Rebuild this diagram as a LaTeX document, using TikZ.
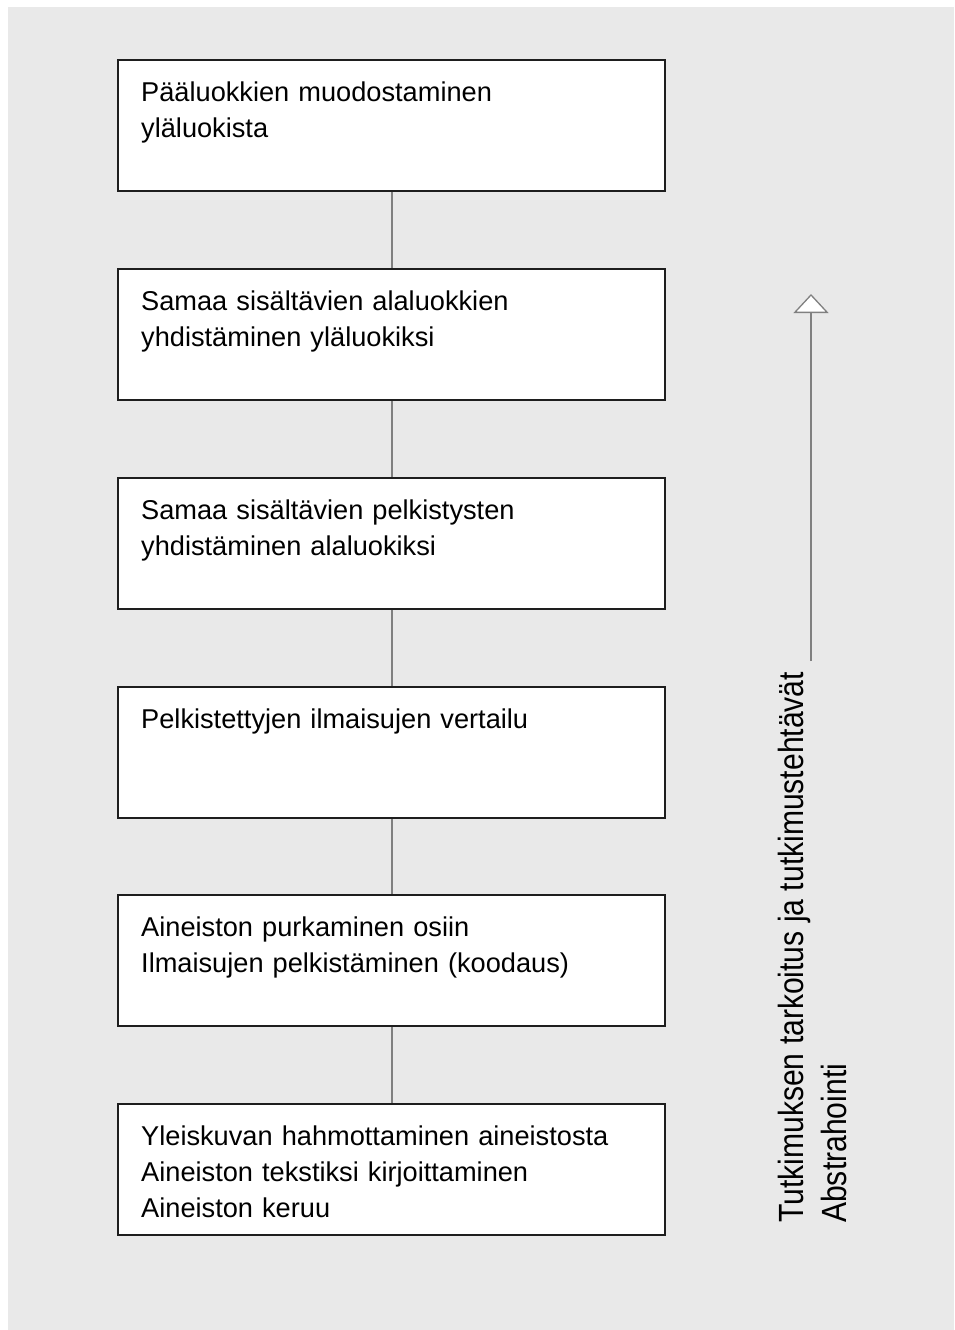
\documentclass[tikz,border=0pt]{standalone}
\usepackage{fontspec}
\setmainfont{Liberation Sans}
\usetikzlibrary{arrows.meta}
\definecolor{panelgray}{RGB}{233,233,233}
\definecolor{boxline}{RGB}{30,30,30}
\definecolor{linkgray}{RGB}{128,128,128}
\tikzset{
  stagebox/.style={draw=boxline, line width=2pt, fill=white, rectangle,
    minimum width=547pt, minimum height=131pt, anchor=north west, inner sep=0pt},
  stagetext/.style={anchor=base west, inner sep=0pt, text width=500pt, align=left,
    font=\fontsize{27.2}{36}\selectfont},
  link/.style={draw=linkgray, line width=2pt},
  sidetext/.style={anchor=base west, inner sep=0pt, rotate=90,
    font=\fontsize{35}{40}\selectfont},
}
\begin{document}
\begin{tikzpicture}[x=1pt, y=-1pt]
  \useasboundingbox (0,0) rectangle (954,1330);
  \fill[panelgray] (8,7) rectangle (954,1330);

  % stages, from the top down
  \node[stagebox] (b1) at (117,59)   {};
  \node[stagebox] (b2) at (117,268)  {};
  \node[stagebox] (b3) at (117,477)  {};
  \node[stagebox] (b4) at (117,686)  {};
  \node[stagebox] (b5) at (117,894)  {};
  \node[stagebox] (b6) at (117,1103) {};

  \node[stagetext] (t1) at (141,101)  {Pääluokkien muodostaminen\\yläluokista};
  \node[stagetext] (t2) at (141,310)  {Samaa sisältävien alaluokkien\\yhdistäminen yläluokiksi};
  \node[stagetext] (t3) at (141,519)  {Samaa sisältävien pelkistysten\\yhdistäminen alaluokiksi};
  \node[stagetext] (t4) at (141,728)  {Pelkistettyjen ilmaisujen vertailu};
  \node[stagetext] (t5) at (141,936)  {Aineiston purkaminen osiin\\Ilmaisujen pelkistäminen (koodaus)};
  \node[stagetext] (t6) at (141,1145) {Yleiskuvan hahmottaminen aineistosta\\Aineiston tekstiksi kirjoittaminen\\Aineiston keruu};

  % links between stages
  \draw[link] (b1.south) -- (b2.north);
  \draw[link] (b2.south) -- (b3.north);
  \draw[link] (b3.south) -- (b4.north);
  \draw[link] (b4.south) -- (b5.north);
  \draw[link] (b5.south) -- (b6.north);

  % abstraction arrow
  \coordinate (arrlow) at (811,661);
  \coordinate (arrhigh) at (811,294);
  \draw[draw=linkgray, line width=1.3pt,
        -{Triangle[open, length=19pt, width=35pt, fill=white]}] (arrlow) -- (arrhigh);

  % side captions
  \node[sidetext] (s1) at (803,1223) {\scalebox{0.86}[1]{Tutkimuksen tarkoitus ja tutkimustehtävät}};
  \node[sidetext] (s2) at (846,1223) {\scalebox{0.86}[1]{Abstrahointi}};
\end{tikzpicture}
\end{document}
